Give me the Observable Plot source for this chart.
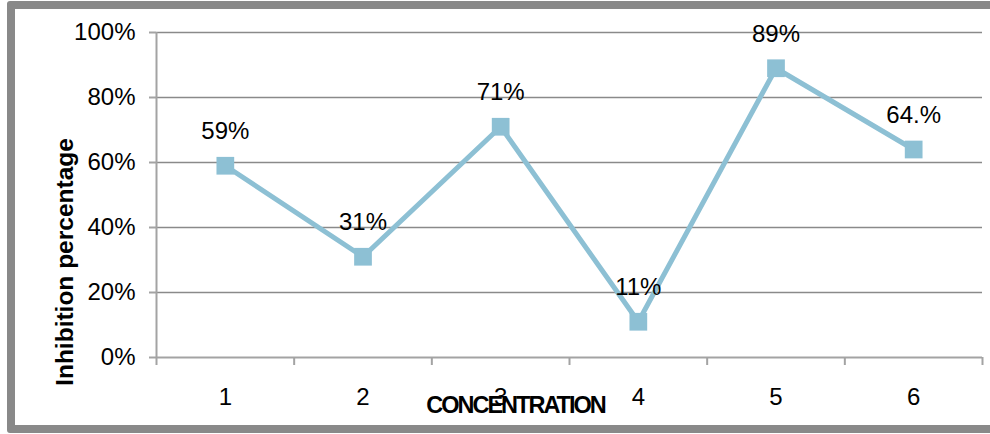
<!DOCTYPE html>
<html>
<head>
<meta charset="utf-8">
<script src="https://cdn.jsdelivr.net/npm/d3@7"></script>
<script src="https://cdn.jsdelivr.net/npm/@observablehq/plot@0.6"></script>
<style>
  html, body { margin: 0; padding: 0; background: #fff; overflow: hidden; }
  #wrap { position: relative; width: 990px; height: 434px; }
  #frame {
    position: absolute; left: 7px; top: 1px; width: 1000px; height: 432px;
    box-sizing: border-box; border: 8px solid #898989; border-radius: 3px;
    pointer-events: none;
  }
  svg { display: block; }
</style>
</head>
<body>
<div id="wrap"><div id="frame"></div></div>
<script>
// Concentration levels and measured inhibition
const concentrations = [1, 2, 3, 4, 5, 6];
const inhibition = [0.59, 0.31, 0.71, 0.11, 0.89, 0.64];
const valueLabels = ["59%", "31%", "71%", "11%", "89%", "64.%"];
const yTicks = [0, 0.2, 0.4, 0.6, 0.8, 1.0];
const categoryBounds = [0.5, 1.5, 2.5, 3.5, 4.5, 5.5, 6.5];
const xTitle = "CONCENTRATION";
const yTitle = "Inhibition percentage";

const data = concentrations.map((c, i) => ({c, v: inhibition[i], label: valueLabels[i]}));

const axisGray = "#a3a3a3";
const gridGray = "#8a8a8a";
const seriesBlue = "#8dc0d4";

const chart = Plot.plot({
  width: 990,
  height: 434,
  marginLeft: 156,
  marginRight: 8,
  marginTop: 32,
  marginBottom: 77,
  style: {fontFamily: "'Liberation Sans', Arial, sans-serif", color: "#000", background: "transparent"},
  x: {domain: [0.5, 6.5]},
  y: {domain: [0, 1]},
  marks: [
    Plot.gridY(yTicks.filter(d => d > 0), {stroke: gridGray, strokeOpacity: 1, strokeWidth: 1.5}),
    Plot.ruleX([0.5], {stroke: axisGray, strokeWidth: 2}),
    Plot.ruleY([0], {stroke: axisGray, strokeWidth: 2}),
    Plot.axisY(yTicks, {tickSize: 7, tickPadding: 14, tickFormat: d3.format(".0%"), fontSize: 24, stroke: axisGray, strokeWidth: 2, label: null}),
    Plot.axisX(categoryBounds, {tickSize: 8, tickFormat: () => "", stroke: axisGray, strokeWidth: 2, label: null}),
    Plot.axisX(concentrations, {tickSize: 0, tickPadding: 30, tickFormat: d => String(d), fontSize: 24, label: null}),
    Plot.line(data, {x: "c", y: "v", stroke: seriesBlue, strokeWidth: 5}),
    Plot.dot(data, {x: "c", y: "v", symbol: "square", r: 10, fill: seriesBlue, stroke: null}),
    Plot.text(data, {x: "c", y: "v", text: "label", dy: -34, fontSize: 24, fill: "#000"}),
    Plot.text([xTitle], {frameAnchor: "bottom", textAnchor: "middle", dy: 55, dx: -54, fontSize: 23.5, fontWeight: "bold", fill: "#000"}),
    Plot.text([yTitle], {frameAnchor: "left", textAnchor: "middle", dx: -91, dy: 67, rotate: -90, fontSize: 24.5, fontWeight: "bold", fill: "#000"})
  ]
});

// tighten the horizontal axis title
d3.select(chart).selectAll("text")
  .filter(function() { return this.textContent === xTitle; })
  .style("letter-spacing", "-2px");

document.getElementById("wrap").prepend(chart);
chart.style.position = "absolute";
chart.style.left = "0";
chart.style.top = "0";
</script>
</body>
</html>
